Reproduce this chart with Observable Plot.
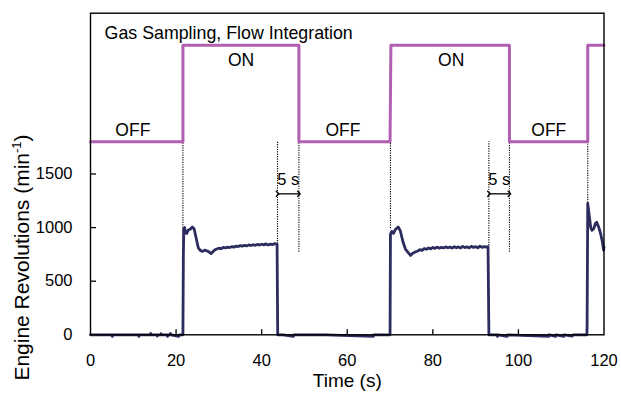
<!DOCTYPE html>
<html>
<head>
<meta charset="utf-8">
<script src="https://cdn.jsdelivr.net/npm/d3@7"></script>
<script src="https://cdn.jsdelivr.net/npm/@observablehq/plot@0.6"></script>
<style>
  html, body { margin: 0; padding: 0; background: #fff; }
  #chart { width: 621px; height: 396px; }
</style>
</head>
<body>
<div id="chart"></div>
<script>
// ---- Data ----
// Gas sampling / flow integration state (drawn on the upper band: OFF level, ON level)
const gasTime  = [0, 21.6, 21.6, 48.7, 48.7, 70.0, 70.2, 97.9, 97.9, 116.2, 116.2, 120];
const gasLevel = [1800, 1800, 2700, 2700, 1800, 1800, 2700, 2700, 1800, 1800, 2700, 2700];

// Engine revolutions (min-1)
const engineTime = [
  0, 5, 5.1, 5.2, 11.2, 11.3, 11.4, 14, 14.1, 14.2, 15.5, 15.6, 15.7, 16.4, 16.5, 16.6, 17.9, 18, 18.1, 18.6, 18.7, 18.8, 20.6, 20.8, 21.6,
  21.7, 21.8, 22.0, 22.2, 22.5, 22.8, 23.3, 23.8, 24.2, 24.7, 25.2, 25.7, 26.2, 26.7, 27.3, 27.8, 28.2, 28.6,
  29.0, 29.5, 30.0, 30.5, 31.0, 31.5, 32.0, 32.5, 33.0, 33.5, 34.0, 34.5, 35.0, 35.5, 36.0, 36.5, 37.0, 37.5, 38.0, 38.5, 39.0, 39.5, 40.0, 40.5, 41.0, 41.5, 42.0, 42.5, 43.0, 43.6, 43.75,
  45, 47.4, 47.5, 55, 66.1, 66.2, 70.0,
  70.1, 70.4, 70.8, 71.3, 71.9, 72.4, 73, 73.6, 74.2, 74.8, 75.3, 76, 76.5,
  77.0, 77.5, 78.0, 78.5, 79.0, 79.5, 80.0, 80.5, 81.0, 81.5, 82.0, 82.5, 83.0, 83.5, 84.0, 84.5, 85.0, 85.5, 86.0, 86.5, 87.0, 87.5, 88.0, 88.5, 89.0, 89.5, 90.0, 90.5, 91.0, 91.5, 92.0, 92.5, 92.9, 93.1,
  95, 95.1, 95.2, 97.4, 97.5, 107.1, 107.2, 108.7, 108.8, 110.6, 110.7, 112.6, 112.8, 116.0,
  116.05, 116.2, 116.5, 116.9, 117.2, 117.6, 118.0, 118.3, 118.8, 119.2, 119.6, 119.9, 120
];
const engineRpm = [
  0, 0, -15, 0, 0, -15, 0, 0, 12, 0, 0, -12, 0, 0, 10, 0, 0, -15, 0, 0, 12, 0, -15, 0, 0,
  730, 990, 1000, 950, 945, 975, 985, 1005, 990, 900, 810, 785, 778, 790, 782, 770, 757, 775,
  790, 800, 808, 803, 815, 810, 818, 814, 822, 817, 828, 823, 832, 827, 835, 829, 838, 833, 840, 835, 843, 837, 845, 839, 848, 838, 846, 841, 850, 845, 0,
  0, -15, 0, 0, -15, 0, 0,
  940, 965, 945, 985, 1005, 970, 870, 800, 770, 740, 760, 775, 782,
  795, 788, 805, 798, 810, 802, 815, 806, 818, 808, 816, 810, 820, 812, 818, 809, 822, 812, 820, 810, 824, 814, 820, 811, 825, 815, 822, 812, 826, 816, 823, 818, 822, 0,
  0, -15, 0, -15, 0, -15, 0, -15, 0, -15, 0, -12, 0, 0,
  90, 1225, 1130, 1000, 975, 990, 1040, 1050, 1000, 945, 870, 790, 820
];

// Dotted guide lines (time, lower end; upper end at the OFF level)
const guideTime   = [21.6, 43.7, 48.7, 70.1, 93.1, 97.9, 116.2];
const guideBottom = [770, 845, 770, 990, 830, 770, 1230];
const guideTop = 1800;

// 5 s delay arrows
const delayStart = [43.7, 93.1];
const delayEnd   = [48.7, 97.9];
const delayLabel = ["5 s", "5 s"];

// State labels
const onLabels  = ["ON", "ON"];
const onTime    = [35.2, 84.3];
const offLabels = ["OFF", "OFF", "OFF"];
const offTime   = [9.9, 59.0, 107.1];

// Ticks
const xTicks = [0, 20, 40, 60, 80, 100, 120];
const yTicks = [0, 500, 1000, 1500];

const titleText = "Gas Sampling, Flow Integration";
const xLabel = "Time (s)";
const yLabel = "Engine Revolutions (min-1)";

// ---- Build tables ----
const gas = gasTime.map((t, i) => ({t, v: gasLevel[i]}));
const engine = engineTime.map((t, i) => ({t, v: engineRpm[i]}));
const guides = guideTime.map((t, i) => ({t, y1: guideBottom[i], y2: guideTop}));
const delays = delayStart.map((s, i) => ({s, e: delayEnd[i], m: (s + delayEnd[i]) / 2, label: delayLabel[i]}));
const onData = onLabels.map((l, i) => ({l, t: onTime[i]}));
const offData = offLabels.map((l, i) => ({l, t: offTime[i]}));

const FONT = "'Liberation Sans', Arial, Helvetica, sans-serif";
const navy = "#2d2c5e";
const purple = "#b160b1";

const chart = Plot.plot({
  width: 621,
  height: 396,
  marginLeft: 90,
  marginRight: 17.5,
  marginTop: 12.7,
  marginBottom: 61.7,
  x: {domain: [0, 120]},
  y: {domain: [0, 3000]},
  style: {fontFamily: FONT, fontSize: "16px", color: "black", background: "white", overflow: "visible"},
  marks: [
    // dotted guides
    Plot.ruleX(guides, {x: "t", y1: "y1", y2: "y2", stroke: "black", strokeWidth: 1.1, strokeDasharray: "1.2,1.2"}),
    // delay arrows
    Plot.link(delays, {x1: "s", x2: "e", y1: 1315, y2: 1315, stroke: "black", strokeWidth: 1.3, markerStart: "arrow", markerEnd: "arrow"}),
    Plot.text(delays, {x: "m", y: 1449, text: "label", fontSize: 16.5, fill: "black"}),
    // gas sampling state
    Plot.line(gas, {x: "t", y: "v", stroke: purple, strokeWidth: 3, curve: "linear"}),
    // engine revolutions
    Plot.line(engine, {x: "t", y: "v", stroke: navy, strokeWidth: 2.8, strokeLinejoin: "round"}),
    // state labels
    Plot.text(onData, {x: "t", y: 2560, text: "l", fontSize: 17.5, fill: "black"}),
    Plot.text(offData, {x: "t", y: 1905, text: "l", fontSize: 17.5, fill: "black"}),
    Plot.text([titleText], {x: 3.3, y: 2810, text: d => d, textAnchor: "start", fontSize: 17.8, fill: "black"}),
    // axes
    Plot.axisX(xTicks, {tickSize: 0, tickPadding: 19, fontSize: 16.5, label: null, tickFormat: d => String(d)}),
    Plot.axisX(xTicks.slice(1, -1), {tickSize: 5, dy: -5, fill: "none", label: null, strokeWidth: 1.3}),
    Plot.axisY(yTicks, {tickSize: 0, tickPadding: 18, fontSize: 16.5, label: null, tickFormat: d => String(d)}),
    Plot.axisY(yTicks.slice(1), {tickSize: 6, dx: 6, fill: "none", label: null, strokeWidth: 1.3}),
    Plot.frame({stroke: "black", strokeWidth: 1.4}),
    Plot.text([xLabel], {frameAnchor: "bottom", dy: 52, text: d => d, fontSize: 19, fill: "black"}),
    Plot.text([yLabel], {frameAnchor: "left", y: 721, dx: -68, rotate: -90, textAnchor: "middle", text: d => d, fontSize: 21, fill: "black"})
  ]
});

document.getElementById("chart").appendChild(chart);

// superscript for min-1
chart.querySelectorAll("text").forEach(t => {
  if (t.textContent === yLabel) {
    t.textContent = "";
    const ns = "http://www.w3.org/2000/svg";
    const a = document.createElementNS(ns, "tspan"); a.textContent = "Engine Revolutions (min";
    const b = document.createElementNS(ns, "tspan"); b.textContent = "-1"; b.setAttribute("font-size", "13"); b.setAttribute("dy", "-8");
    const c = document.createElementNS(ns, "tspan"); c.textContent = ")"; c.setAttribute("dy", "8");
    t.appendChild(a); t.appendChild(b); t.appendChild(c);
  }
});
</script>
</body>
</html>
